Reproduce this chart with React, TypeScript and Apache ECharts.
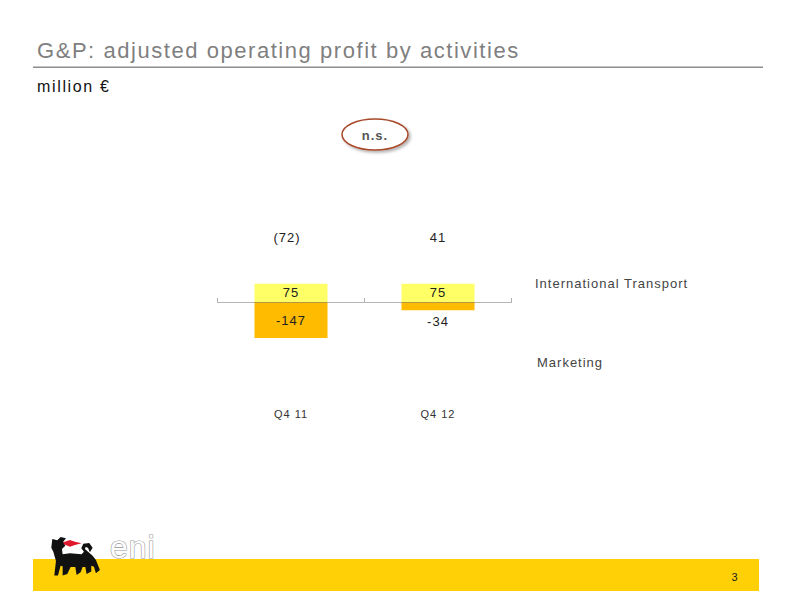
import { useEffect, useRef } from "react";
import * as echarts from "echarts";

const categories = ["Q4 11", "Q4 12"];
const internationalTransport = [75, 75];
const marketing = [-147, -34];
const totalLabels = ["(72)", "41"];
const seriesNames = ["International Transport", "Marketing"];

const FONT = "'Liberation Sans', Arial, sans-serif";
const dogPath =
  "M97 42 L112 46 L122 36 L138 40 L130 50 L136 62 L126 72 L128 88 L150 85 L185 88 L192 80 L184 70 L190 56 L208 54 L218 68 L210 82 L204 68 L197 66 L195 72 L206 82 L218 92 L228 105 L240 135 L228 145 L222 125 L214 122 L214 140 L200 147 L196 126 L188 126 L182 142 L170 150 L166 126 L152 126 L142 147 L128 152 L128 124 L122 122 L114 152 L103 152 L108 108 L100 80 L94 68 Z";
const flamePath = "M130 52 L150 45 L165 50 L185 55 L165 60 L150 65 L132 58 Z";

echarts.graphic.registerShape("eniDog", echarts.graphic.extendPath(dogPath, {}));
echarts.graphic.registerShape("eniFlame", echarts.graphic.extendPath(flamePath, {}));

// zrender has no letter spacing, the reference's title lines are wider than the rest
const spacingCss = `
  text[style*="22px"] { letter-spacing: 1.55px; }
  text[style*="16px"] { letter-spacing: 1.65px; }
`;

export default function App() {
  const chartRef = useRef<HTMLDivElement | null>(null);

  useEffect(() => {
    if (!chartRef.current) return;
    const chart = echarts.init(chartRef.current, null, { renderer: "svg" });

    chart.setOption({
      animation: false,
      backgroundColor: "#fff",
      textStyle: { fontFamily: FONT },
      grid: { left: 217.5, top: 253, width: 294, height: 98 },
      xAxis: [
        {
          type: "category",
          z: 5,
          data: categories,
          axisLine: { onZero: true, lineStyle: { color: "rgba(120,120,120,0.55)", width: 1 } },
          axisTick: { show: true, inside: true, length: 4, lineStyle: { color: "rgba(120,120,120,0.6)" } },
          axisLabel: { margin: 57, fontSize: 11, color: "#333", fontFamily: FONT },
        },
        {
          type: "category",
          position: "top",
          // the first total sits a little left of its bar in the reference
          data: totalLabels.map((t, i) => (i === 0 ? { value: t, textStyle: { padding: [0, 8, 0, 0] } } : t)),
          axisLine: { show: false },
          axisTick: { show: false },
          axisLabel: { margin: 9, fontSize: 13, color: "#222", fontFamily: FONT },
        },
      ],
      yAxis: { type: "value", min: -200, max: 200, show: false },
      series: [
        {
          name: seriesNames[0],
          type: "bar",
          stack: "total",
          barWidth: 73,
          itemStyle: { color: "#FFFF66" },
          label: { show: true, position: "inside", fontSize: 13, color: "#222", fontFamily: FONT },
          data: internationalTransport,
        },
        {
          name: seriesNames[1],
          type: "bar",
          stack: "total",
          barWidth: 73,
          itemStyle: { color: "#FFBB00" },
          label: { show: true, fontSize: 13, color: "#222", fontFamily: FONT },
          data: marketing.map((v) => ({
            value: v,
            label: { position: Math.abs(v) < 50 ? "bottom" : "inside", distance: 5 },
          })),
        },
      ],
      graphic: [
        { type: "text", x: 37, y: 39, style: { text: "G&P: adjusted operating profit by activities", font: `22px ${FONT}`, fill: "#7f7f7f" } },
        { type: "rect", shape: { x: 33, y: 66.5, width: 730, height: 1.5 }, style: { fill: "#8c8c8c" } },
        { type: "text", x: 37, y: 78, style: { text: "million €", font: `16px ${FONT}`, fill: "#111" } },
        {
          type: "ellipse",
          shape: { cx: 375, cy: 134.5, rx: 33, ry: 15.5 },
          style: { fill: "#fff", stroke: "#A8492A", lineWidth: 1.5, shadowBlur: 3, shadowOffsetX: 2, shadowOffsetY: 2, shadowColor: "rgba(0,0,0,0.3)" },
        },
        { type: "text", x: 375, y: 135, style: { text: "n.s.", font: `bold 13px ${FONT}`, fill: "#555", align: "center", verticalAlign: "middle" } },
        { type: "text", x: 535, y: 283, style: { text: seriesNames[0], font: `13px ${FONT}`, fill: "#444", verticalAlign: "middle" } },
        { type: "text", x: 537, y: 362, style: { text: seriesNames[1], font: `13px ${FONT}`, fill: "#444", verticalAlign: "middle" } },
        { type: "text", x: 110, y: 531, style: { text: "eni", font: `32px ${FONT}`, fill: "#fff", stroke: "#9a9a9a", lineWidth: 1.2 } },
        { type: "rect", shape: { x: 33, y: 559, width: 726, height: 32 }, style: { fill: "#FFD006" } },
        { type: "eniDog", x: 20, y: 525, scaleX: 1 / 3, scaleY: 1 / 3, style: { fill: "#111" } },
        { type: "eniFlame", x: 20, y: 525, scaleX: 1 / 3, scaleY: 1 / 3, style: { fill: "#E0182D" } },
        { type: "text", x: 735, y: 577, style: { text: "3", font: `11px ${FONT}`, fill: "#222", align: "center", verticalAlign: "middle" } },
      ],
    });

    return () => chart.dispose();
  }, []);

  return (
    <>
      <style>{spacingCss}</style>
      <div
        ref={chartRef}
        style={{ position: "absolute", left: 0, top: 0, width: 800, height: 600, letterSpacing: "1px" }}
      />
    </>
  );
}
